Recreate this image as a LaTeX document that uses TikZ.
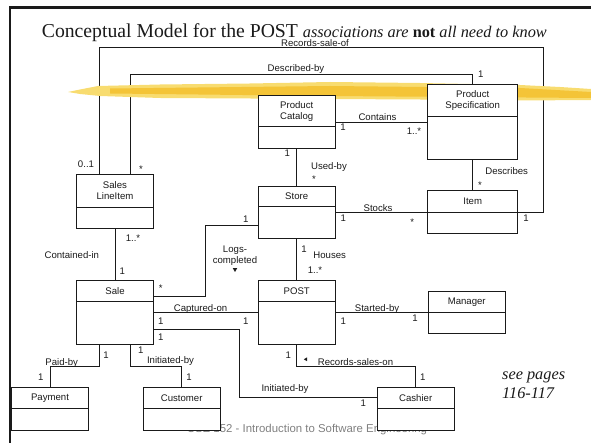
\documentclass[tikz,border=0pt]{standalone}
\usepackage{fontspec}
\setmainfont{Liberation Sans}
\newfontfamily\titleserif{Liberation Serif}
\usetikzlibrary{arrows.meta,positioning,shapes.geometric}
\definecolor{ink}{HTML}{1A1A1A}
\definecolor{brush}{HTML}{F8DC70}
\definecolor{brushcore}{HTML}{F4C437}
\definecolor{footgray}{HTML}{808080}
\newcommand{\lbl}{\fontsize{9.6}{10.8}\selectfont}
\pgfdeclarelayer{lines}
\pgfdeclarelayer{paint}
\pgfsetlayers{lines,paint,main}
\tikzset{
  every node/.style={font=\lbl,text=ink},
  head/.style={draw=ink,fill=white,line width=.8pt,outer sep=0pt,inner sep=1pt,anchor=north,align=center,minimum width=76.7pt,minimum height=21pt},
  wide/.style={minimum width=90pt},
  body/.style={draw=ink,fill=white,line width=.8pt,outer sep=0pt,inner sep=0pt,minimum width=76.7pt,below=0pt of #1},
  assoc/.style={draw=ink,line width=.8pt},
  lab/.style={inner sep=0pt,text height=7pt,text depth=1pt},
  lab2/.style={inner sep=0pt,align=center},
  mult/.style={lab},
  star/.style={lab,yshift=-2.5pt},
  dirmark/.style={regular polygon,regular polygon sides=3,fill=ink,inner sep=0pt,minimum size=5pt},
}

\begin{document}
\begin{tikzpicture}[x=1pt,y=-1pt]
\useasboundingbox (0,0) rectangle (591,443);

% slide frame and title
\draw[ink,line width=2.6pt] (10,443) -- (10,7.5) -- (591,7.5);
\node[anchor=base west,inner sep=0pt] (title) at (41.7,37.7) {\titleserif\fontsize{19.7}{22}\selectfont Conceptual Model for the POST {\fontsize{16.3}{19}\selectfont\itshape associations are \textbf{\upshape not} all need to know}};
\node[anchor=base west,inner sep=0pt] (see1) at (502,379) {\titleserif\fontsize{16.3}{19}\selectfont\itshape see pages};
\node[anchor=base west,inner sep=0pt] (see2) at (502,398.8) {\titleserif\fontsize{16.3}{19}\selectfont\itshape 116-117};

% classes
\node[head] (catH) at (296.7,95.7) [minimum height=31pt] {Product\\Catalog};
\node[body=catH,minimum height=21.6pt] (cat) {};
\node[head,wide,minimum height=32.4pt] (specH) at (472.7,84.3) {Product\\Specification};
\node[body=specH,wide,minimum height=42.6pt] (spec) {};
\node[head,minimum height=32.3pt] (sliH) at (115,174.7) {Sales\\LineItem};
\node[body=sliH,minimum height=21.3pt] (sli) {};
\node[head,minimum height=20.5pt] (storeH) at (296.7,186) {Store};
\node[body=storeH,minimum height=31.8pt] (store) {};
\node[head,wide,minimum height=21.6pt] (itemH) at (472.7,190.7) {Item};
\node[body=itemH,wide,minimum height=21pt] (item) {};
\node[head] (saleH) at (115,280.7) {Sale};
\node[body=saleH,minimum height=42.6pt] (sale) {};
\node[head] (postH) at (296.7,280.7) {POST};
\node[body=postH,minimum height=42.6pt] (post) {};
\node[head,minimum height=20.6pt] (mgrH) at (466.7,291.7) {Manager};
\node[body=mgrH,minimum height=21pt] (mgr) {};
\node[head] (payH) at (50,387.3) {Payment};
\node[body=payH,minimum height=21.7pt] (pay) {};
\node[head] (custH) at (181.7,387.3) {Customer};
\node[body=custH,minimum height=21.7pt] (cust) {};
\node[head] (cashH) at (415.7,387.3) {Cashier};
\node[body=cashH,minimum height=21.7pt] (cash) {};

% associations
\coordinate (recR) at (543.3,47.7);
\coordinate (descR) at (472.7,74);
\coordinate (logK) at (205.7,296);
\coordinate (iniX) at (239.3,0);
\coordinate (midY) at (0,366);
\coordinate (conL) at ([yshift=4.7pt]catH.south east);
\coordinate (capL) at ([yshift=10.7pt]sale.east);
\coordinate (iniS) at ([yshift=-6pt]sale.east);
\begin{pgfonlayer}{lines}
\node[anchor=base west,inner sep=0pt,text=footgray,font=\fontsize{11.4}{13}\selectfont] (foot) at (186.7,432.3) {CSE 152 - Introduction to Software Engineering};
\draw[assoc] ([xshift=-16pt]sliH.north) |- (recR) |- (itemH.south east);
\draw[assoc] ([xshift=15.3pt]sliH.north) |- (descR) -- (specH.north);
\draw[assoc] (conL) -- (conL -| spec.west);
\draw[assoc] (cat.south) -- (storeH.north);
\draw[assoc] (spec.south) -- (itemH.north);
\draw[assoc] (store.east |- itemH.south) -- (itemH.south west);
\draw[assoc] (sli.south) -- (saleH.north);
\draw[assoc] (store.south) -- (postH.north);
\draw[assoc] ([yshift=-3.3pt]store.west) -| (logK) -- (saleH.east |- logK);
\draw[assoc] (capL) -- (capL -| post.west);
\draw[assoc] (iniS) -| (iniX |- cashH.west) -- (cashH.west);
\draw[assoc] (post.east |- mgrH.south) -- (mgrH.south west);
\draw[assoc] (post.south) |- (cashH.north |- midY) -- (cashH.north);
\draw[assoc] ([xshift=-16pt]sale.south) |- (payH.north |- midY) -- (payH.north);
\draw[assoc] ([xshift=15.7pt]sale.south) |- (custH.north |- midY) -- (custH.north);
\end{pgfonlayer}

% highlighter stroke
\begin{pgfonlayer}{paint}
\fill[brush] (68,92) -- (80,89.5) -- (98,86) -- (160,84.5) -- (250,83.5) -- (330,82) -- (420,83) -- (520,85) -- (560,87) -- (591,89) -- (591,100) -- (520,100.5) -- (420,99.5) -- (330,99) -- (250,98.5) -- (160,98) -- (100,96) -- (80,94) -- cycle;
\fill[brushcore] (110,88.5) -- (330,86) -- (520,88) -- (591,92) -- (591,98) -- (330,96) -- (110,93.5) -- cycle;
\end{pgfonlayer}

% names and multiplicities
\node[lab] (lRec) at (315,43.3) {Records-sale-of};
\node[lab] (lDesc) at (296,69) {Described-by};
\node[mult] (mDesc) at (480.7,75) {1};
\node[mult] (mRecS) at (86,165) {0..1};
\node[star] (mDescS) at (141,166.7) {*};
\node[lab] (lCont) at (377.5,117.7) {Contains};
\node[mult] (mCont1) at (343,128) {1};
\node[mult] (mCont2) at (414,132) {1..*};
\node[mult] (mUse1) at (287.3,153.3) {1};
\node[lab] (lUse) at (329,166.7) {Used-by};
\node[star] (mUse2) at (314,177.3) {*};
\node[lab] (lDes) at (506.7,171.7) {Describes};
\node[star] (mDes) at (480,183.3) {*};
\node[lab] (lStk) at (378,208.3) {Stocks};
\node[mult] (mStk1) at (343.3,219) {1};
\node[star] (mStk2) at (412.3,220) {*};
\node[mult] (mRecI) at (526,218.3) {1};
\node[mult] (mLog1) at (245.7,219.5) {1};
\node[mult] (mCon1) at (133,238.3) {1..*};
\node[lab] (lCon) at (71.8,255.7) {Contained-in};
\node[mult] (mCon2) at (122.3,271.7) {1};
\node[lab2] (lLog) at (235,255.5) {Logs-\\completed};
\node[dirmark,shape border rotate=180] (aLog) at (235,269.5) {};
\node[mult] (mHou1) at (304,249.3) {1};
\node[lab] (lHou) at (329.7,255.7) {Houses};
\node[mult] (mHou2) at (315,270.7) {1..*};
\node[star] (mLog2) at (160.7,286) {*};
\node[lab] (lCap) at (200.5,309) {Captured-on};
\node[mult] (mCap1) at (160.7,321.7) {1};
\node[mult] (mCap2) at (245.7,321.7) {1};
\node[lab] (lSta) at (377,309) {Started-by};
\node[mult] (mSta1) at (343.3,321.7) {1};
\node[mult] (mSta2) at (415,318.3) {1};
\node[mult] (mIni1) at (160.7,337.7) {1};
\node[mult] (mPay1) at (106,355.7) {1};
\node[mult] (mCus1) at (140.7,350) {1};
\node[lab] (lPay) at (61.7,362.7) {Paid-by};
\node[mult] (mPay2) at (40.7,377.3) {1};
\node[lab] (lCus) at (170.5,360) {Initiated-by};
\node[mult] (mCus2) at (189,377.3) {1};
\node[mult] (mRso1) at (288.3,355) {1};
\node[dirmark,shape border rotate=90,minimum size=4.5pt] (aRso) at (306,359.3) {};
\node[lab] (lRso) at (355.5,362.7) {Records-sales-on};
\node[mult] (mRso2) at (422.7,377.3) {1};
\node[lab] (lIni) at (285,388.3) {Initiated-by};
\node[mult] (mIni2) at (363.3,403.3) {1};

\end{tikzpicture}
\end{document}
